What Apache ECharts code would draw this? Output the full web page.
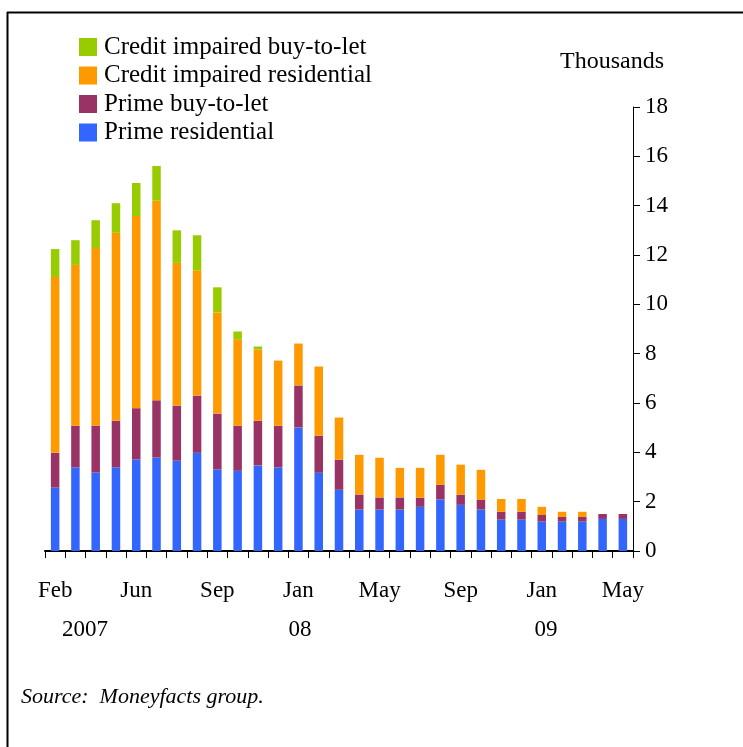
<!DOCTYPE html>
<html>
<head>
<meta charset="utf-8">
<script src="https://cdn.jsdelivr.net/npm/echarts@6/dist/echarts.min.js"></script>
<style>
html,body{margin:0;padding:0;background:#fff;}
#c{width:743px;height:747px;}
</style>
</head>
<body>
<div id="c"></div>
<script>
// 29 monthly categories; labels shown every 4th
const categories = ['Feb','','','','Jun','','','','Sep','','','','Jan','','','','May','','','','Sep','','','','Jan','','','','May'];
const yearLabels = ['2007','08','09'];
const primeResidential = [2.57,3.39,3.18,3.39,3.71,3.79,3.66,3.98,3.31,3.25,3.47,3.39,5.01,3.17,2.48,1.68,1.68,1.68,1.79,2.09,1.87,1.68,1.27,1.27,1.19,1.19,1.19,1.30,1.30];
const primeBTL = [1.41,1.69,1.90,1.89,2.08,2.32,2.23,2.32,2.26,1.83,1.81,1.69,1.70,1.50,1.22,0.61,0.49,0.49,0.37,0.59,0.41,0.39,0.32,0.32,0.27,0.19,0.19,0.20,0.20];
const creditResidential = [7.13,6.52,7.20,7.62,7.79,8.09,5.79,5.08,4.10,3.50,2.89,2.64,1.70,2.81,1.71,1.61,1.61,1.20,1.21,1.22,1.22,1.22,0.52,0.52,0.33,0.21,0.21,0,0];
const creditBTL = [1.13,1.00,1.13,1.20,1.34,1.41,1.32,1.42,1.02,0.32,0.12,0,0,0,0,0,0,0,0,0,0,0,0,0,0,0,0,0,0];
const seriesNames = ['Prime residential','Prime buy-to-let','Credit impaired residential','Credit impaired buy-to-let'];
const colors = ['#3366FF','#993366','#FF9900','#99CC00'];
const yTicks = {min:0, max:18, interval:2};

const font = 'Liberation Serif, Times New Roman, serif';
const chart = echarts.init(document.getElementById('c'));
const data = [primeResidential, primeBTL, creditResidential, creditBTL];
chart.setOption({
  animation:false,
  backgroundColor:'#fff',
  grid:{left:45, right:110, top:107, bottom:196},
  legend:{
    orient:'vertical', left:79, top:33, padding:0, itemWidth:18, itemHeight:18, itemGap:0.5,
    icon:'rect',
    data:[seriesNames[3],seriesNames[2],seriesNames[1],seriesNames[0]],
    textStyle:{fontFamily:font, fontSize:25, color:'#000', lineHeight:28, padding:[0,0,0,2]}
  },
  xAxis:{
    type:'category', data:categories, boundaryGap:true,
    axisLine:{show:true, lineStyle:{color:'#000', width:2}},
    axisTick:{show:true, interval:0, length:7, lineStyle:{color:'#000'}},
    axisLabel:{interval:3, fontFamily:font, fontSize:23, color:'#000', margin:28}
  },
  yAxis:{
    type:'value', position:'right', min:yTicks.min, max:yTicks.max, interval:yTicks.interval,
    axisLine:{show:true, lineStyle:{color:'#000', width:1}},
    axisTick:{show:true, length:7, lineStyle:{color:'#000'}},
    splitLine:{show:false},
    axisLabel:{fontFamily:font, fontSize:23, color:'#000', margin:12}
  },
  series: seriesNames.map((n,i)=>({
    name:n, type:'bar', stack:'t', data:data[i], barWidth:'42%',
    itemStyle:{color:colors[i]}
  })),
  graphic:[
    {type:'line', shape:{x1:7.5,y1:12,x2:7.5,y2:747}, style:{stroke:'#000', lineWidth:2}},
    {type:'line', shape:{x1:7,y1:12.5,x2:743,y2:12.5}, style:{stroke:'#000', lineWidth:2}},
    {type:'text', x:664, y:62, style:{text:'Thousands', font:'24px Liberation Serif', fill:'#000', align:'right', verticalAlign:'middle'}},
    {type:'text', x:85, y:630, style:{text:yearLabels[0], font:'23px Liberation Serif', fill:'#000', align:'center', verticalAlign:'middle'}},
    {type:'text', x:300, y:630, style:{text:yearLabels[1], font:'23px Liberation Serif', fill:'#000', align:'center', verticalAlign:'middle'}},
    {type:'text', x:546, y:630, style:{text:yearLabels[2], font:'23px Liberation Serif', fill:'#000', align:'center', verticalAlign:'middle'}},
    {type:'text', x:21, y:697, style:{text:'Source:  Moneyfacts group.', font:'italic 22px Liberation Serif', fill:'#000', verticalAlign:'middle'}}
  ]
});
</script>
</body>
</html>
